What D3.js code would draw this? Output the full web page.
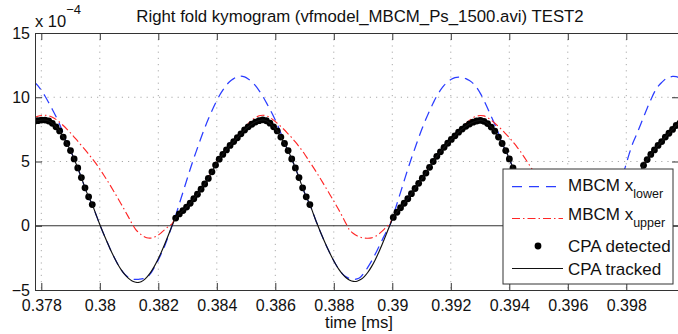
<!DOCTYPE html>
<html>
<head>
<meta charset="utf-8">
<script src="https://cdn.jsdelivr.net/npm/d3@7"></script>
<style>
  html, body { margin: 0; padding: 0; background: #fff; }
  svg { display: block; font-family: "Liberation Sans", Arial, Helvetica, sans-serif; }
</style>
</head>
<body>
<svg class="chart" width="678" height="334"></svg>
<script>
// kymogram frame clock (ms)
const frameStart = 0.377758;
const frameStep = 0.000124;

// displacements, in units of 1e-4
const xLower = [
  11.2, 10.9, 10.52, 10.08, 9.58, 9.05, 8.5, 7.9, 7.2, 6.42,
  5.85, 5.2, 4.5, 3.75, 2.95, 2.25, 1.65, 0.9, 0.15, -0.54,
  -1.2, -1.84, -2.43, -2.97, -3.43, -3.78, -4.02, -4.14, -4.18, -4.16,
  -4.12, -4.02, -3.75, -3.3, -2.78, -2.2, -1.55, -0.8,
  0, 0.8, 1.7, 2.6, 3.5, 4.4, 5.25, 6.05, 6.85, 7.6,
  8.3, 8.95, 9.55, 10.1, 10.55, 10.95, 11.25, 11.45, 11.6, 11.65,
  11.58, 11.42, 11.2, 10.9, 10.52, 10.08, 9.58, 9.05, 8.5, 7.9,
  7.2, 6.42, 5.85, 5.2, 4.5, 3.75, 2.95, 2.25, 1.65, 0.9,
  0.15, -0.54, -1.2, -1.83, -2.41, -2.94, -3.38, -3.74, -3.98, -4.12,
  -4.17, -4.14, -3.98, -3.65, -3.22, -2.75, -2.22, -1.65, -1.08, -0.5,
  0, 0.8, 1.7, 2.6, 3.5, 4.4, 5.25, 6.05, 6.85, 7.6,
  8.3, 8.95, 9.55, 10.1, 10.55, 10.92, 11.2, 11.4, 11.52, 11.57,
  11.55, 11.45, 11.3, 11.08, 10.75, 10.3, 9.75, 9.15, 8.5, 7.88,
  7.2, 6.42, 5.85, 5.2, 4.5, 3.75, 2.95, 2.25, 1.65, 0.9,
  0.15, -0.54, -1.2, -1.83, -2.42, -2.95, -3.4, -3.76, -4.0, -4.13,
  -4.17, -4.14, -3.98, -3.65, -3.22, -2.75, -2.22, -1.65, -1.08, -0.5,
  0, 0.85, 1.75, 2.7, 3.7, 4.6, 5.55, 6.4, 7.05, 7.75,
  8.45, 9.15, 9.8, 10.4, 10.85, 11.15, 11.4, 11.55, 11.62, 11.6,
  11.5
];

const xUpper = [
  8.42, 8.52, 8.58, 8.6, 8.56, 8.45, 8.28, 8.05, 7.8, 7.52,
  7.22, 6.9, 6.58, 6.25, 5.92, 5.57, 5.22, 4.85, 4.45, 4.02,
  3.58, 3.12, 2.65, 2.17, 1.68, 1.18, 0.67, 0.15, -0.3, -0.58,
  -0.8, -0.93, -0.96, -0.9, -0.76, -0.55, -0.3, -0.05,
  0.15, 0.65, 0.97, 1.23, 1.5, 1.8, 2.15, 2.5, 2.9, 3.3,
  3.73, 4.25, 4.77, 5.23, 5.62, 5.98, 6.35, 6.68, 7.0, 7.32,
  7.65, 7.95, 8.22, 8.42, 8.56, 8.6, 8.55, 8.42, 8.22, 7.98,
  7.72, 7.45, 7.15, 6.85, 6.52, 6.17, 5.8, 5.38, 4.95, 4.52,
  4.08, 3.62, 3.15, 2.68, 2.2, 1.72, 1.22, 0.7, 0.15, -0.35,
  -0.6, -0.78, -0.9, -0.96, -0.97, -0.94, -0.84, -0.65, -0.4, -0.12,
  0.15, 0.7, 1.1, 1.45, 1.8, 2.15, 2.55, 2.95, 3.35, 3.75,
  4.15, 4.6, 5.05, 5.45, 5.8, 6.15, 6.48, 6.8, 7.1, 7.4,
  7.68, 7.95, 8.2, 8.4, 8.53, 8.58, 8.55, 8.42, 8.22, 7.98,
  7.72, 7.45, 7.15, 6.85, 6.52, 6.17, 5.8, 5.38, 4.95, 4.52,
  4.08, 3.62, 3.15, 2.68, 2.2, 1.72, 1.22, 0.7, 0.15, -0.35,
  -0.6, -0.78, -0.9, -0.96, -0.97, -0.94, -0.84, -0.65, -0.4, -0.12,
  0.15, 0.8, 1.25, 1.6, 1.95, 2.35, 2.75, 3.2, 3.65, 4.2,
  4.75, 5.2, 5.6, 5.95, 6.3, 6.62, 6.97, 7.28, 7.6, 7.92,
  8.15
];

const cpaTracked = [
  8.12, 8.18, 8.22, 8.22, 8.15, 7.97, 7.7, 7.38, 6.9, 6.4,
  5.85, 5.2, 4.5, 3.75, 2.95, 2.25, 1.65, 0.9, 0.15, -0.54,
  -1.2, -1.84, -2.43, -2.97, -3.43, -3.81, -4.1, -4.3, -4.4, -4.4,
  -4.27, -4.02, -3.67, -3.22, -2.69, -2.08, -1.42, -0.72,
  0, 0.6, 0.92, 1.18, 1.45, 1.75, 2.1, 2.45, 2.85, 3.25,
  3.68, 4.2, 4.72, 5.18, 5.55, 5.9, 6.25, 6.55, 6.85, 7.15,
  7.45, 7.7, 7.9, 8.07, 8.18, 8.24, 8.17, 7.98, 7.7, 7.38,
  6.9, 6.4, 5.85, 5.2, 4.5, 3.75, 2.95, 2.25, 1.65, 0.9,
  0.15, -0.54, -1.2, -1.83, -2.41, -2.94, -3.4, -3.77, -4.05, -4.24,
  -4.33, -4.32, -4.19, -3.96, -3.62, -3.18, -2.66, -2.06, -1.4, -0.71,
  0, 0.65, 1.05, 1.4, 1.75, 2.1, 2.5, 2.9, 3.3, 3.7,
  4.1, 4.55, 5.0, 5.4, 5.75, 6.1, 6.42, 6.72, 7.0, 7.28,
  7.52, 7.74, 7.92, 8.06, 8.15, 8.2, 8.13, 7.95, 7.68, 7.36,
  6.9, 6.4, 5.85, 5.2, 4.5, 3.75, 2.95, 2.25, 1.65, 0.9,
  0.15, -0.54, -1.2, -1.83, -2.42, -2.95, -3.41, -3.79, -4.07, -4.27,
  -4.36, -4.35, -4.22, -3.98, -3.64, -3.2, -2.67, -2.07, -1.41, -0.72,
  0, 0.75, 1.2, 1.55, 1.9, 2.3, 2.7, 3.15, 3.6, 4.15,
  4.7, 5.15, 5.55, 5.9, 6.25, 6.55, 6.9, 7.2, 7.5, 7.8,
  8.0
];

// null = no CPA detected in that frame
const cpaDetected = [
  8.12, 8.18, 8.22, 8.22, 8.15, 7.97, 7.7, 7.38, 6.9, 6.4,
  5.85, 5.2, 4.5, 3.75, 2.95, 2.25, 1.65, null, null, null,
  null, null, null, null, null, null, null, null, null, null,
  null, null, null, null, null, null, null, null,
  null, 0.6, 0.92, 1.18, 1.45, 1.75, 2.1, 2.45, 2.85, 3.25,
  3.68, 4.2, 4.72, 5.18, 5.55, 5.9, 6.25, 6.55, 6.85, 7.15,
  7.45, 7.7, 7.9, 8.07, 8.18, 8.24, 8.17, 7.98, 7.7, 7.38,
  6.9, 6.4, 5.85, 5.2, 4.5, 3.75, 2.95, 2.25, 1.65, null,
  null, null, null, null, null, null, null, null, null, null,
  null, null, null, null, null, null, null, null, null, null,
  null, 0.65, 1.05, 1.4, 1.75, 2.1, 2.5, 2.9, 3.3, 3.7,
  4.1, 4.55, 5.0, 5.4, 5.75, 6.1, 6.42, 6.72, 7.0, 7.28,
  7.52, 7.74, 7.92, 8.06, 8.15, 8.2, 8.13, 7.95, 7.68, 7.36,
  6.9, 6.4, 5.85, 5.2, 4.5, 3.75, 2.95, 2.25, 1.65, null,
  null, null, null, null, null, null, null, null, null, null,
  null, null, null, null, null, null, null, null, null, null,
  null, 0.75, 1.2, 1.55, 1.9, 2.3, 2.7, 3.15, 3.6, 4.15,
  4.7, 5.15, 5.55, 5.9, 6.25, 6.55, 6.9, 7.2, 7.5, 7.8,
  8.0
];

const xTicks = [0.378, 0.38, 0.382, 0.384, 0.386, 0.388, 0.39, 0.392, 0.394, 0.396, 0.398];
const yTicks = [-5, 0, 5, 10, 15];
const legendLabels = [
  ['MBCM x', 'lower'],
  ['MBCM x', 'upper'],
  ['CPA detected', ''],
  ['CPA tracked', '']
];

const width = 678, height = 334;
const margins = {top: 33, right: -1, bottom: 44, left: 35};
const plotW = width - margins.left - margins.right,
    plotH = height - margins.top - margins.bottom;
const font = '"Liberation Sans", Arial, Helvetica, sans-serif';
const axisColor = '#333';

const timeOf = i => frameStart + i * frameStep;

const svg = d3.select('.chart');

const xScale = d3.scaleLinear()
    .domain([0.3777846, 0.399802])
    .range([0, plotW]);

const yScale = d3.scaleLinear()
    .domain([-5, 15])
    .range([plotH, 0]);

const chart = svg.append('g')
    .attr('transform', 'translate(' + margins.left + ',' + margins.top + ')');

svg.append('defs').append('clipPath')
    .attr('id', 'plotClip')
    .append('rect')
    .attr('width', plotW)
    .attr('height', plotH);

// dotted grid
chart.append('g')
    .selectAll('line')
    .data(xTicks)
    .enter().append('line')
    .attr('x1', d => xScale(d)).attr('x2', d => xScale(d))
    .attr('y1', 0).attr('y2', plotH)
    .attr('stroke', '#aaa')
    .attr('stroke-width', 1)
    .attr('stroke-dasharray', '1.2,5');

chart.append('g')
    .selectAll('line')
    .data(yTicks.filter(d => d > -5 && d < 15 && d !== 0))
    .enter().append('line')
    .attr('x1', 0).attr('x2', plotW)
    .attr('y1', d => yScale(d)).attr('y2', d => yScale(d))
    .attr('stroke', '#aaa')
    .attr('stroke-width', 1)
    .attr('stroke-dasharray', '1.2,5');

const plot = chart.append('g').attr('clip-path', 'url(#plotClip)');

// zero reference line
plot.append('line')
    .attr('x1', 0).attr('x2', plotW)
    .attr('y1', yScale(0)).attr('y2', yScale(0))
    .attr('stroke', axisColor)
    .attr('stroke-width', 1);

const line = d3.line()
    .defined(d => d != null)
    .x((d, i) => xScale(timeOf(i)))
    .y(d => yScale(d))
    .curve(d3.curveCatmullRom.alpha(0.5));

plot.append('path')
    .attr('d', line(xLower))
    .attr('fill', 'none')
    .attr('stroke', '#2b3dff')
    .attr('stroke-width', 1.25)
    .attr('stroke-dasharray', '10,6');

plot.append('path')
    .attr('d', line(xUpper))
    .attr('fill', 'none')
    .attr('stroke', '#ff2626')
    .attr('stroke-width', 1.15)
    .attr('stroke-dasharray', '8,3,1.5,3');

plot.selectAll('circle.det')
    .data(cpaDetected.map((v, i) => ({t: timeOf(i), v: v})).filter(d => d.v != null))
    .enter().append('circle')
    .attr('class', 'det')
    .attr('r', 3.4)
    .attr('cx', d => xScale(d.t))
    .attr('cy', d => yScale(d.v))
    .style('fill', 'black');

plot.append('path')
    .attr('d', line(cpaTracked))
    .attr('fill', 'none')
    .attr('stroke', '#111')
    .attr('stroke-width', 1.15);

// axes, MATLAB style ticks pointing inward
const styleAxis = g => {
    g.attr('font-size', 16).attr('font-family', font);
    g.selectAll('path, line').attr('stroke', axisColor);
    g.selectAll('text').attr('fill', '#111');
};

chart.append('g')
    .attr('transform', 'translate(0,' + plotH + ')')
    .call(d3.axisBottom(xScale).tickValues(xTicks).tickSize(-7).tickSizeOuter(0)
        .tickPadding(10).tickFormat(d => String(+d.toFixed(3))))
    .call(styleAxis);

chart.append('g')
    .call(d3.axisTop(xScale).tickValues(xTicks).tickSize(-7).tickSizeOuter(0).tickFormat(''))
    .call(styleAxis);

chart.append('g')
    .call(d3.axisLeft(yScale).tickValues(yTicks).tickSize(-7).tickSizeOuter(0)
        .tickPadding(5).tickFormat(d3.format('d')))
    .call(styleAxis);

chart.append('g')
    .attr('transform', 'translate(' + plotW + ',0)')
    .call(d3.axisRight(yScale).tickValues(yTicks).tickSize(-7).tickSizeOuter(0).tickFormat(''))
    .call(styleAxis);

// title, exponent, axis label
svg.append('text')
    .attr('x', 360).attr('y', 22)
    .style('font-size', '16.8px')
    .style('text-anchor', 'middle')
    .attr('fill', '#111')
    .text('Right fold kymogram (vfmodel_MBCM_Ps_1500.avi) TEST2');

const expo = svg.append('text')
    .attr('x', 35).attr('y', 27)
    .style('font-size', '16.5px')
    .attr('fill', '#111');
expo.append('tspan').text('x 10');
expo.append('tspan').attr('dy', -13).style('font-size', '13px').text('\u22124');

svg.append('text')
    .attr('x', 359).attr('y', 328)
    .style('font-size', '16.8px')
    .style('text-anchor', 'middle')
    .attr('fill', '#111')
    .text('time [ms]');

// legend
const legend = svg.append('g');
legend.append('rect')
    .attr('x', 503).attr('y', 169)
    .attr('width', 170).attr('height', 115)
    .attr('fill', 'white')
    .attr('stroke', axisColor)
    .attr('stroke-width', 1);

const sampleY = [186.5, 218.5, 246, 268.5];
const textY = [190.5, 220, 251.5, 275];

legend.append('line')
    .attr('x1', 512).attr('x2', 563).attr('y1', sampleY[0]).attr('y2', sampleY[0])
    .attr('stroke', '#2b3dff').attr('stroke-width', 1.25).attr('stroke-dasharray', '10,7');
legend.append('line')
    .attr('x1', 512).attr('x2', 563).attr('y1', sampleY[1]).attr('y2', sampleY[1])
    .attr('stroke', '#ff2626').attr('stroke-width', 1.15).attr('stroke-dasharray', '8,3,1.5,3');
legend.append('circle')
    .attr('cx', 538).attr('cy', sampleY[2]).attr('r', 3.4).style('fill', 'black');
legend.append('line')
    .attr('x1', 512).attr('x2', 563).attr('y1', sampleY[3]).attr('y2', sampleY[3])
    .attr('stroke', '#111').attr('stroke-width', 1.15);

legendLabels.forEach((lab, i) => {
    const t = legend.append('text')
        .attr('x', 568).attr('y', textY[i])
        .style('font-size', '17px')
        .attr('fill', '#111');
    t.append('tspan').text(lab[0]);
    if (lab[1]) t.append('tspan').attr('dy', 7).style('font-size', '12.5px').text(lab[1]);
});
</script>
</body>
</html>
